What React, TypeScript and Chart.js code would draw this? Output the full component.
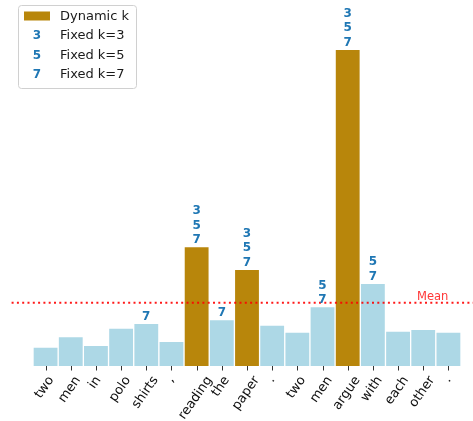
import { useEffect, useRef } from 'react';
import { Chart, registerables } from 'chart.js';

Chart.register(...registerables);

const tokens = ['two', 'men', 'in', 'polo', 'shirts', ',', 'reading', 'the', 'paper', '.', 'two', 'men', 'argue', 'with', 'each', 'other', '.'];
const scores = [0.019, 0.0294, 0.0207, 0.038, 0.0427, 0.0247, 0.1193, 0.0464, 0.0967, 0.041, 0.034, 0.0593, 0.3167, 0.0827, 0.035, 0.0367, 0.034];
const dynamicSelected = [0, 0, 0, 0, 0, 0, 1, 0, 1, 0, 0, 0, 1, 0, 0, 0, 0];
const fixedK3 = [6, 8, 12];
const fixedK5 = [6, 8, 11, 12, 13];
const fixedK7 = [4, 6, 7, 8, 11, 12, 13];

const GOLD = '#b8860b';
const LIGHT = '#add8e6';
const BLUE = '#1f77b4';
const FONT = '"DejaVu Sans", sans-serif';

const overlay = {
  id: 'overlay',
  afterDatasetsDraw(chart: any) {
    const ctx = chart.ctx as CanvasRenderingContext2D;
    const xs = chart.scales.x;
    const ys = chart.scales.y;
    const area = chart.chartArea;
    const meta = chart.getDatasetMeta(0);
    const n = tokens.length;
    const catW = (area.right - area.left) / n;

    ctx.save();
    // tick marks
    ctx.strokeStyle = '#333';
    ctx.lineWidth = 1;
    tokens.forEach((_, i) => {
      const px = Math.round(xs.getPixelForValue(i)) + 0.5;
      ctx.beginPath();
      ctx.moveTo(px, area.bottom);
      ctx.lineTo(px, area.bottom + 4.5);
      ctx.stroke();
    });

    // tick labels, rotated and centred under the tick
    const theta = (55 * Math.PI) / 180;
    ctx.font = `13px ${FONT}`;
    ctx.fillStyle = '#111';
    tokens.forEach((t, i) => {
      const px = xs.getPixelForValue(i);
      const w = ctx.measureText(t).width;
      const h = 13;
      const bh = w * Math.sin(theta) + h * Math.cos(theta);
      const cy = area.bottom + 8 + bh / 2;
      ctx.save();
      ctx.translate(px - 1, cy);
      ctx.rotate(-theta);
      ctx.textAlign = 'center';
      ctx.textBaseline = 'middle';
      ctx.fillText(t, 0, 0);
      ctx.restore();
    });

    // mean line
    const mean = scores.reduce((a, b) => a + b, 0) / n;
    const my = ys.getPixelForValue(mean);
    ctx.strokeStyle = 'rgba(255,0,0,0.9)';
    ctx.lineWidth = 2;
    ctx.setLineDash([2, 3.3]);
    ctx.beginPath();
    ctx.moveTo(area.left - 0.85 * catW, my);
    ctx.lineTo(chart.width, my);
    ctx.stroke();
    ctx.setLineDash([]);
    ctx.fillStyle = 'rgba(255,30,30,0.9)';
    ctx.font = `11.5px ${FONT}`;
    ctx.textAlign = 'left';
    ctx.textBaseline = 'alphabetic';
    ctx.fillText('Mean', area.right - 44, my - 3);

    // fixed-k markers above bars
    ctx.font = `bold 12px ${FONT}`;
    ctx.fillStyle = BLUE;
    ctx.textAlign = 'center';
    ctx.textBaseline = 'middle';
    const groups: [number[], string, number][] = [
      [fixedK7, '7', 0],
      [fixedK5, '5', 1],
      [fixedK3, '3', 2],
    ];
    groups.forEach(([idxs, label, level]) => {
      idxs.forEach((i) => {
        const el = meta.data[i];
        ctx.fillText(label, el.x, el.y - 6.7 - level * 14.5);
      });
    });

    // legend
    const bx = 18.5, by = 5.5, bw = 118, bhh = 83, r = 3;
    ctx.beginPath();
    ctx.moveTo(bx + r, by);
    ctx.lineTo(bx + bw - r, by);
    ctx.quadraticCurveTo(bx + bw, by, bx + bw, by + r);
    ctx.lineTo(bx + bw, by + bhh - r);
    ctx.quadraticCurveTo(bx + bw, by + bhh, bx + bw - r, by + bhh);
    ctx.lineTo(bx + r, by + bhh);
    ctx.quadraticCurveTo(bx, by + bhh, bx, by + bhh - r);
    ctx.lineTo(bx, by + r);
    ctx.quadraticCurveTo(bx, by, bx + r, by);
    ctx.closePath();
    ctx.fillStyle = 'rgba(255,255,255,0.85)';
    ctx.fill();
    ctx.strokeStyle = '#d0d0d0';
    ctx.lineWidth = 1;
    ctx.stroke();

    const rows = [16, 35.5, 55, 74];
    const names = ['Dynamic k', 'Fixed k=3', 'Fixed k=5', 'Fixed k=7'];
    ctx.fillStyle = GOLD;
    ctx.fillRect(24, rows[0] - 4.5, 26, 9);
    ctx.font = `bold 12px ${FONT}`;
    ctx.fillStyle = BLUE;
    ctx.textAlign = 'center';
    ctx.textBaseline = 'middle';
    ['3', '5', '7'].forEach((d, j) => ctx.fillText(d, 37, rows[j + 1] + 0.5));
    ctx.font = `13px ${FONT}`;
    ctx.fillStyle = '#1a1a1a';
    ctx.textAlign = 'left';
    names.forEach((s, j) => ctx.fillText(s, 60, rows[j] + 0.5));
    ctx.restore();
  },
};

export default function App() {
  const ref = useRef<HTMLCanvasElement>(null);
  useEffect(() => {
    if (!ref.current) return;
    const chart = new Chart(ref.current, {
      type: 'bar',
      data: {
        labels: tokens,
        datasets: [
          {
            label: 'Dynamic k',
            data: scores,
            backgroundColor: dynamicSelected.map((d) => (d ? GOLD : LIGHT)),
            borderColor: 'rgba(255,255,255,0.75)',
            borderWidth: 1,
            barPercentage: 1,
            categoryPercentage: 1,
          },
        ],
      },
      options: {
        responsive: false,
        animation: false,
        devicePixelRatio: 1,
        layout: { padding: { left: 33, right: 12, top: 16, bottom: 55 } },
        plugins: { legend: { display: false }, tooltip: { enabled: false } },
        scales: {
          x: { display: false },
          y: { display: false, min: 0, max: 0.35 },
        },
      },
      plugins: [overlay],
    });
    return () => chart.destroy();
  }, []);
  return (
    <div style={{ position: 'fixed', left: 0, top: 0, width: 473, height: 421, background: '#fff' }}>
      <canvas ref={ref} width={473} height={421} style={{ display: 'block' }} />
    </div>
  );
}
